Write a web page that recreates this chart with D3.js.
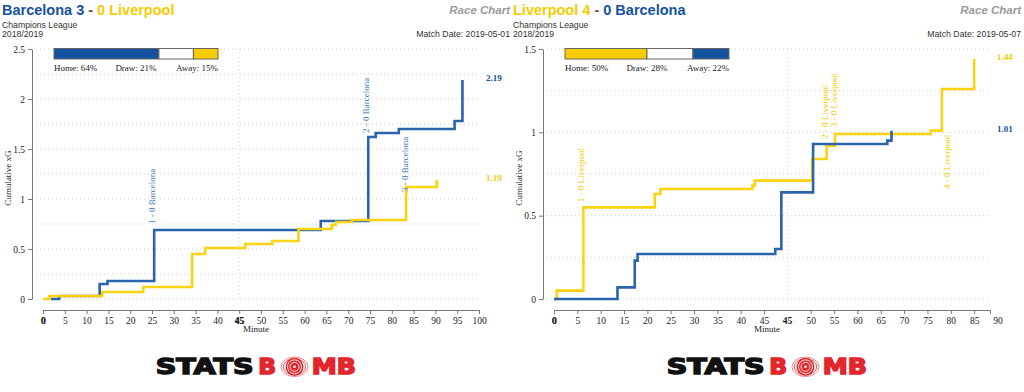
<!DOCTYPE html>
<html>
<head>
<meta charset="utf-8">
<script src="https://cdn.jsdelivr.net/npm/d3@7"></script>
<style>
body { margin: 0; background: #fff; }
svg text { font-family: "Liberation Serif", "Times New Roman", serif; }
</style>
</head>
<body>
<div class="race"></div>
<script>
// ---- first leg: Barcelona at home ----
var leg1Teams = ["Barcelona", "Liverpool"];
var leg1Score = [3, 0];
var leg1Season = "2018/2019";
var leg1Date = "2019-05-01";
var leg1Probs = [64, 21, 15];
// [minute, cumulative xG]
var leg1HomeXg = [[1.8,0],[3.7,0.03],[13.0,0.15],[14.8,0.18],[25.5,0.69],[63.7,0.78],[74.6,1.62],[76.3,1.66],[81.6,1.70],[94.4,1.78],[96.2,2.19]];
var leg1AwayXg = [[0,0],[1.4,0.03],[13.6,0.07],[23.0,0.12],[34.2,0.45],[37.2,0.51],[46.4,0.55],[52.6,0.58],[58.6,0.70],[66.2,0.74],[67.2,0.77],[70.8,0.79],[83.3,1.12],[90.3,1.19]];
// [minute, xG level under the label, text, scoring side]
var leg1Goals = [[25.5,0.75,"1 - 0 Barcelona",0],[74.6,1.66,"2 - 0 Barcelona",0],[83.4,1.07,"3 - 0 Barcelona",0]];
var leg1FirstHalfTicks = [0,5,10,15,20,25,30,35,40,45];
var leg1SecondHalfTicks = [50,55,60,65,70,75,80,85,90,95,100];
var leg1HalfStart = 45;
var leg1MaxMinute = 100;
var leg1YTicks = [0,0.5,1,1.5,2,2.5];

// ---- second leg: Liverpool at home ----
var leg2Teams = ["Liverpool", "Barcelona"];
var leg2Score = [4, 0];
var leg2Season = "2018/2019";
var leg2Date = "2019-05-07";
var leg2Probs = [50, 28, 22];
var leg2HomeXg = [[0,0],[0.6,0.05],[6.3,0.55],[21.6,0.63],[22.8,0.66],[42.5,0.68],[43.0,0.71],[55.3,0.84],[58.4,0.92],[60.2,0.99],[80.7,1.01],[83.1,1.26],[90.0,1.44]];
var leg2AwayXg = [[0,0],[13.6,0.07],[17.3,0.23],[17.9,0.27],[47.4,0.30],[48.7,0.64],[55.5,0.93],[71.4,0.95],[72.3,1.01]];
var leg2Goals = [[6.3,0.58,"1 - 0 Liverpool",0],[58.4,0.96,"2 - 0 Liverpool",0],[60.4,1.03,"3 - 0 Liverpool",0],[84.6,0.66,"4 - 0 Liverpool",0]];
var leg2FirstHalfTicks = [0,5,10,15,20,25,30,35,40,45];
var leg2SecondHalfTicks = [50,55,60,65,70,75,80,85,90];
var leg2HalfStart = 50;
var leg2MaxMinute = 93.4;
var leg2YTicks = [0,0.5,1,1.5];

var teamColor = { "Barcelona": "#14529f", "Liverpool": "#f6cb00" };
var lineColor = { "Barcelona": "#2964ad", "Liverpool": "#fbd311" };
var labelColor = { "Barcelona": "#3f77bb", "Liverpool": "#f4c900" };

var svg = d3.select(".race").append("svg")
    .attr("width", 1024)
    .attr("height", 392);

function drawChart(ox, teams, score, season, date, probs, homeXg, awayXg, goals,
                   firstTicks, secondTicks, halfStart, maxMinute, yTicks) {
    var g = svg.append("g").attr("transform", `translate(${ox},0)`);
    var left = 43, right = 479, top = 49, bottom = 299;

    var x = d3.scaleLinear().domain([0, maxMinute]).range([left, right]);
    var y = d3.scaleLinear().domain([0, d3.max(yTicks)]).range([bottom, top]);

    // header
    var title = g.append("text")
        .attr("x", 2).attr("y", 14.5)
        .style("font-family", "'Liberation Sans', Arial, sans-serif")
        .style("font-weight", "bold")
        .style("font-size", "14.5px");
    title.append("tspan").attr("fill", teamColor[teams[0]]).text(teams[0] + " " + score[0]);
    title.append("tspan").attr("fill", "#555").text(" - ");
    title.append("tspan").attr("fill", teamColor[teams[1]]).text(score[1] + " " + teams[1]);

    g.append("text")
        .attr("x", 510).attr("y", 13.5)
        .attr("text-anchor", "end")
        .style("font-family", "'Liberation Sans', Arial, sans-serif")
        .style("font-weight", "bold").style("font-style", "italic")
        .style("font-size", "11.5px")
        .attr("fill", "#9a9a9a")
        .text("Race Chart");

    var small = [["Champions League", 2, 27.5, "start"], [season, 2, 37, "start"], ["Match Date: " + date, 510, 37, "end"]];
    small.forEach(function(s) {
        g.append("text")
            .attr("x", s[1]).attr("y", s[2])
            .attr("text-anchor", s[3])
            .style("font-family", "'Liberation Sans', Arial, sans-serif")
            .style("font-size", "8.7px")
            .attr("fill", "#333")
            .text(s[0]);
    });

    // gridlines
    var grid = d3.range(0, d3.max(yTicks) + 0.001, 0.25);
    g.selectAll(".hgrid").data(grid).enter().append("line")
        .attr("x1", 36).attr("x2", right)
        .attr("y1", d => y(d)).attr("y2", d => y(d))
        .attr("stroke", "#cfcfcf").attr("stroke-dasharray", "1,3");
    g.append("line")
        .attr("x1", x(halfStart)).attr("x2", x(halfStart))
        .attr("y1", top).attr("y2", bottom)
        .attr("stroke", "#cfcfcf").attr("stroke-dasharray", "1,3");

    // y axis
    var yAxis = g.append("g")
        .attr("transform", "translate(32,0)")
        .call(d3.axisLeft(y).tickValues(yTicks).tickSize(4).tickSizeOuter(0).tickPadding(3).tickFormat(d3.format("")));
    yAxis.selectAll("path,line").attr("stroke", "#777");
    yAxis.selectAll("text").style("font-size", "9.5px").attr("fill", "#222");

    g.append("text")
        .attr("transform", "translate(11,178) rotate(-90)")
        .attr("text-anchor", "middle")
        .style("font-size", "9px")
        .attr("fill", "#222")
        .text("Cumulative xG");

    // x axis: second half ticks are shifted to where the second half started
    var shift = halfStart - 45;
    var tickPos = firstTicks.concat(secondTicks.map(d => d + shift));
    var tickLab = firstTicks.concat(secondTicks);
    var xAxis = g.append("g")
        .attr("transform", "translate(0,310)")
        .call(d3.axisBottom(x).tickValues(tickPos).tickSize(4).tickSizeOuter(4).tickPadding(3)
            .tickFormat((d, i) => tickLab[i]));
    xAxis.selectAll("path,line").attr("stroke", "#777");
    xAxis.selectAll("text").style("font-size", "9.5px").attr("fill", "#222");
    // ticks outside of the axis get a label only
    xAxis.selectAll(".tick").filter(d => d > maxMinute).select("line").remove();

    [[0, "0"], [halfStart, "45"]].forEach(function(b) {
        g.append("text")
            .attr("x", x(b[0])).attr("y", 310 + 7).attr("dy", "0.71em")
            .attr("text-anchor", "middle")
            .style("font-size", "9.5px").style("font-weight", "bold")
            .attr("fill", "#222")
            .text(b[1]);
    });

    g.append("text")
        .attr("x", 256).attr("y", 332)
        .attr("text-anchor", "middle")
        .style("font-size", "9px")
        .attr("fill", "#222")
        .text("Minute");

    // race lines
    var line = d3.line()
        .x(d => x(d[0]))
        .y(d => y(d[1]))
        .curve(d3.curveStepAfter);

    [[homeXg, teams[0]], [awayXg, teams[1]]].forEach(function(s) {
        g.append("path")
            .datum(s[0])
            .attr("d", line)
            .attr("fill", "none")
            .attr("stroke", lineColor[s[1]])
            .attr("stroke-width", 2.6);

        var last = s[0][s[0].length - 1];
        g.append("text")
            .attr("x", right + 7).attr("y", y(last[1]) + 1)
            .style("font-size", "9px").style("font-weight", "bold")
            .attr("fill", teamColor[s[1]])
            .text(d3.format(".2f")(last[1]));
    });

    // goals
    g.selectAll(".goal").data(goals).enter().append("text")
        .attr("transform", d => `translate(${x(d[0]) + 1},${y(d[1])}) rotate(-90)`)
        .style("font-size", "9px")
        .attr("fill", d => labelColor[teams[d[3]]])
        .text(d => d[2]);

    // win probability bar
    var bx = d3.scaleLinear().domain([0, 100]).range([54, 218]);
    var probColors = [teamColor[teams[0]], "#fff", teamColor[teams[1]]];
    var acc = 0;
    probs.forEach(function(p, i) {
        g.append("rect")
            .attr("x", bx(acc)).attr("y", 48.5)
            .attr("width", bx(acc + p) - bx(acc)).attr("height", 10.5)
            .attr("fill", probColors[i])
            .attr("stroke", "#666").attr("stroke-width", 1);
        acc += p;
    });
    var probText = [["Home: " + probs[0] + "%", bx(0), "start"],
                    ["Draw: " + probs[1] + "%", bx(50), "middle"],
                    ["Away: " + probs[2] + "%", bx(100), "end"]];
    probText.forEach(function(t) {
        g.append("text")
            .attr("x", t[1]).attr("y", 70.5)
            .attr("text-anchor", t[2])
            .style("font-size", "9px")
            .attr("fill", "#222")
            .text(t[0]);
    });

    // logo: each word part squeezed/stretched to its slot
    var logo = g.append("g");
    var parts = [["STATS", 155, 100, "#111"], ["B", 257.5, 19.5, "#e2262c"], ["MB", 311, 46, "#e2262c"]];
    parts.forEach(function(p) {
        var t = logo.append("text")
            .attr("fill", p[3]).attr("stroke", p[3]).attr("stroke-width", 1.4)
            .style("font-family", "'DejaVu Sans', sans-serif")
            .style("font-weight", "bold").style("font-size", "20.5px")
            .text(p[0]);
        var w = t.node().getComputedTextLength() + 1.4;
        t.attr("transform", `translate(${p[1] + 0.7},374.3) scale(${p[2] / w},1)`);
    });
    // the target in place of the "O"
    [[13.5, 0.7], [11.2, 1]].forEach(function(r) {
        logo.append("ellipse").attr("cx", 294.5).attr("cy", 366.8).attr("rx", r[0]).attr("ry", r[0] * 0.72)
            .attr("fill", "none").attr("stroke", "#e2262c").attr("stroke-width", r[1]).attr("opacity", 0.8);
    });
    logo.append("circle").attr("cx", 294.5).attr("cy", 366.8).attr("r", 9).attr("fill", "#e2262c");
    [7, 4.5].forEach(function(r) {
        logo.append("circle").attr("cx", 294.5).attr("cy", 366.8).attr("r", r)
            .attr("fill", "none").attr("stroke", "#fff").attr("stroke-width", 0.9);
    });
    logo.append("circle").attr("cx", 294.5).attr("cy", 366.8).attr("r", 1.3).attr("fill", "#fff");
}

drawChart(0, leg1Teams, leg1Score, leg1Season, leg1Date, leg1Probs, leg1HomeXg, leg1AwayXg, leg1Goals,
          leg1FirstHalfTicks, leg1SecondHalfTicks, leg1HalfStart, leg1MaxMinute, leg1YTicks);
drawChart(511, leg2Teams, leg2Score, leg2Season, leg2Date, leg2Probs, leg2HomeXg, leg2AwayXg, leg2Goals,
          leg2FirstHalfTicks, leg2SecondHalfTicks, leg2HalfStart, leg2MaxMinute, leg2YTicks);
</script>
</body>
</html>
